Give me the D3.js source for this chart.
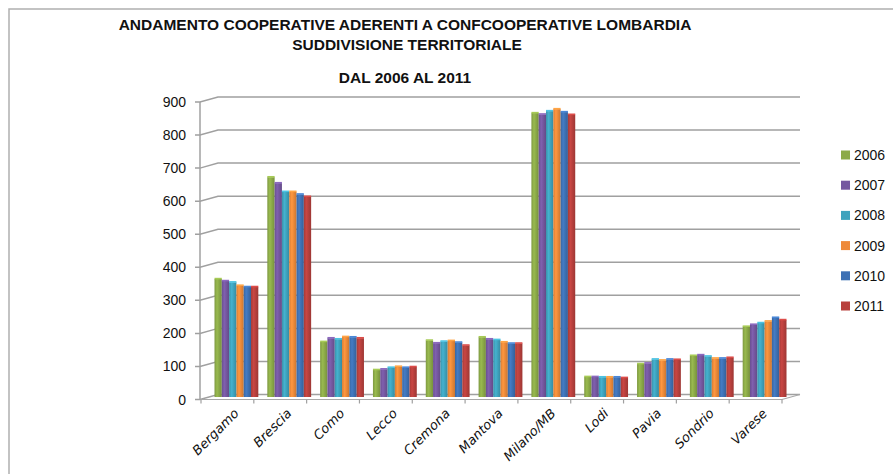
<!DOCTYPE html>
<html><head><meta charset="utf-8">
<script src="https://cdn.jsdelivr.net/npm/d3@7/dist/d3.min.js"></script>
<style>body{margin:0;background:#fff}svg{display:block}</style>
</head><body>
<svg id="chart" width="893" height="474"></svg>
<script>
const categories = ["Bergamo","Brescia","Como","Lecco","Cremona","Mantova","Milano/MB","Lodi","Pavia","Sondrio","Varese"];
const years = ["2006","2007","2008","2009","2010","2011"];
const colors = ["#8CAA48","#7558A0","#3FA3BD","#EE8A3A","#3E71B4","#B8403D"];
const v2006 = [357,665,167,82,171,181,859,61,100,125,213];
const v2007 = [351,647,178,84,163,175,855,61,102,127,219];
const v2008 = [347,621,175,89,168,173,865,60,114,123,224];
const v2009 = [337,621,182,92,170,166,871,60,111,117,229];
const v2010 = [333,613,181,89,165,162,862,60,114,117,240];
const v2011 = [333,606,178,91,156,162,854,58,113,119,233];
const series = [v2006,v2007,v2008,v2009,v2010,v2011];
const yTicks = [0,100,200,300,400,500,600,700,800,900];
const titleLines = ["ANDAMENTO COOPERATIVE ADERENTI A CONFCOOPERATIVE LOMBARDIA","SUDDIVISIONE TERRITORIALE","DAL 2006 AL 2011"];

const svg = d3.select("#chart");
const DX = 18, DY = -5;
const x = d3.scaleBand().domain(categories).range([201, 782]).padding(0);
const y = d3.scaleLinear().domain([0, 900]).range([399.5, 102]);
const inner = d3.scaleBand().domain(years).range([4.5, x.bandwidth() - 4.5]).padding(0);

// frame
svg.append("path").attr("d","M9,474 L9,9 L893,9").attr("fill","none").attr("stroke","#b0b0b0").attr("stroke-width",1.5);

// defs gradients
const defs = svg.append("defs");
colors.forEach((c,i)=>{
  const g = defs.append("linearGradient").attr("id","g"+i).attr("x1","0").attr("x2","1").attr("y1","0").attr("y2","0");
  const base = d3.color(c);
  g.append("stop").attr("offset","0%").attr("stop-color", base.darker(0.3));
  g.append("stop").attr("offset","35%").attr("stop-color", base.brighter(0.25));
  g.append("stop").attr("offset","100%").attr("stop-color", base.darker(0.45));
});

// gridlines (back wall + left wall diagonal)
const grid = svg.append("g");
yTicks.forEach(t=>{
  const yf = y(t);
  grid.append("path")
    .attr("d", `M195,${yf} L200,${yf} L${200+DX},${yf+DY} L800,${yf+DY}`)
    .attr("fill","none").attr("stroke","#a0a0a0").attr("stroke-width",1.5);
});
// floor
grid.append("path").attr("d", `M200,${y(0)} L782,${y(0)} L800,${y(0)+DY}`)
  .attr("fill","none").attr("stroke","#a8a8a8").attr("stroke-width",1.2);
// left axis line
grid.append("line").attr("x1",200).attr("x2",200).attr("y1",y(900)).attr("y2",y(0))
  .attr("stroke","#a0a0a0").attr("stroke-width",1.5);
// x ticks
const bounds = categories.map(c=>x(c)).concat([x(categories[categories.length-1])+x.bandwidth()]);
grid.selectAll("line.xt").data(bounds).join("line").attr("class","xt")
  .attr("x1",d=>d).attr("x2",d=>d).attr("y1",y(0)).attr("y2",y(0)+4)
  .attr("stroke","#a0a0a0").attr("stroke-width",1.2);

// y labels
svg.append("g").selectAll("text").data(yTicks).join("text")
  .attr("x",186).attr("y",d=>y(d)).attr("dy","0.36em").attr("text-anchor","end")
  .attr("font-family","'Liberation Sans', Arial, sans-serif").attr("font-size",14).attr("fill","#111")
  .text(d=>d);

// bars
const bars = svg.append("g").attr("transform",`translate(${DX/2},${DY/2})`);
series.forEach((vals,i)=>{
  bars.append("g").selectAll("rect").data(vals).join("rect")
    .attr("x",(d,j)=>x(categories[j]) + inner(years[i]))
    .attr("width", inner.bandwidth())
    .attr("y", d=>y(d))
    .attr("height", d=>y(0)-y(d))
    .attr("fill", `url(#g${i})`);
  bars.append("g").selectAll("rect").data(vals).join("rect")
    .attr("x",(d,j)=>x(categories[j]) + inner(years[i]))
    .attr("width", inner.bandwidth())
    .attr("y", d=>y(d)-1.2)
    .attr("height", 1.6)
    .attr("fill", d3.color(colors[i]).brighter(0.5));
});

// x labels
svg.append("g").selectAll("text").data(categories).join("text")
  .attr("transform", d=>`translate(${x(d)+x.bandwidth()/2+9},${411}) rotate(-45)`)
  .attr("text-anchor","end").attr("dy","0.35em")
  .attr("font-family","'DejaVu Sans', sans-serif").attr("font-style","italic").attr("font-size",13).attr("fill","#111")
  .text(d=>d);

// legend
const lg = svg.append("g");
years.forEach((yr,i)=>{
  const cy = 155 + i*30.2;
  lg.append("rect").attr("x",841).attr("y",cy-4.5).attr("width",9).attr("height",9).attr("fill",colors[i]);
  lg.append("text").attr("x",854).attr("y",cy).attr("dy","0.36em")
    .attr("font-family","'Liberation Sans', Arial, sans-serif").attr("font-size",14).attr("fill","#111").text(yr);
});

// title
const tt = svg.append("g").attr("font-family","'Liberation Sans Narrow','Liberation Sans',Arial,sans-serif").attr("font-weight","bold").attr("font-size",15.5).attr("fill","#111").attr("text-anchor","middle");
[[405,30],[407,50],[405,83]].forEach((p,i)=>{
  tt.append("text").attr("x",p[0]).attr("y",p[1]).text(titleLines[i]);
});
</script>
</body></html>
